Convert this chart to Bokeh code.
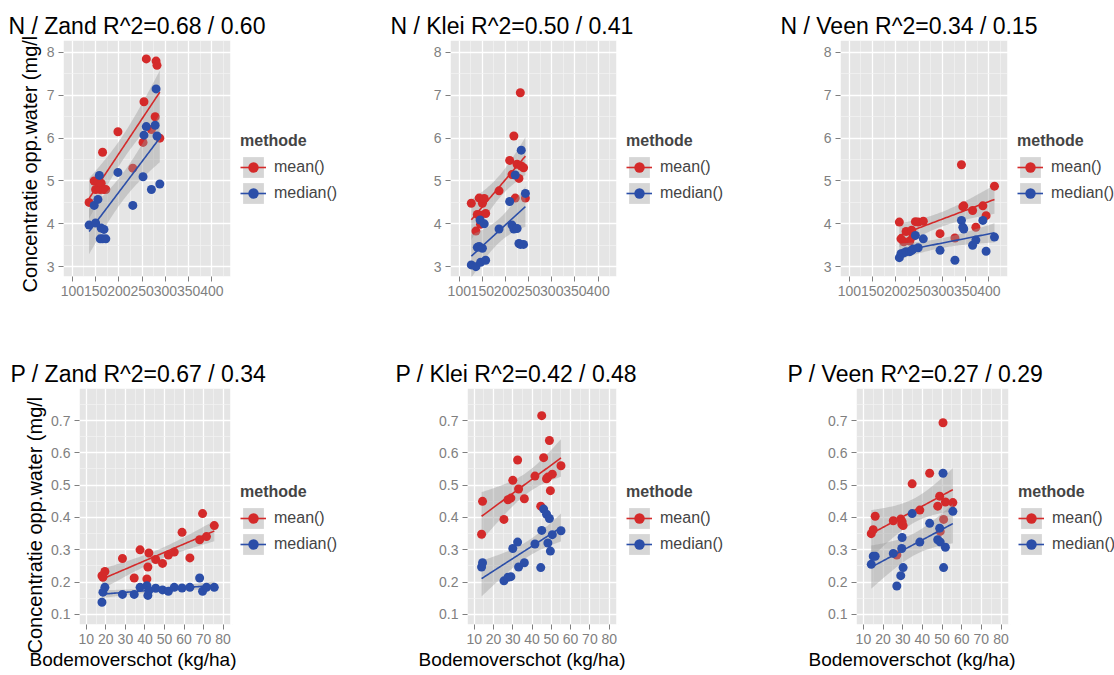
import numpy as np
from bokeh.plotting import figure
from bokeh.layouts import column, row
from bokeh.models import Range1d, FixedTicker, Legend, LegendItem, Title, BoxAnnotation
from bokeh.embed import file_html
from bokeh.resources import INLINE

# ---------------- data ----------------
methods = ["mean()", "median()"]
titles = ["N / Zand R^2=0.68 / 0.60", "N / Klei R^2=0.50 / 0.41", "N / Veen R^2=0.34 / 0.15",
          "P / Zand R^2=0.67 / 0.34", "P / Klei R^2=0.42 / 0.48", "P / Veen R^2=0.27 / 0.29"]
y_label = "Concentratie opp.water (mg/l"
x_label = "Bodemoverschot (kg/ha)"

n_ticks_x = [100, 150, 200, 250, 300, 350, 400]
n_ticks_y = [3, 4, 5, 6, 7, 8]
p_ticks_x = [10, 20, 30, 40, 50, 60, 70, 80]
p_ticks_y = [0.1, 0.2, 0.3, 0.4, 0.5, 0.6, 0.7]

nz_x = [136, 147, 150, 155, 158, 160, 162, 165, 168, 172, 198, 230, 252, 254, 259, 270, 278, 280, 282, 288]
nz_mean = [4.50, 5.00, 4.80, 5.00, 4.85, 4.80, 4.95, 5.67, 4.80, 4.80, 6.15, 5.30, 5.90, 6.85, 7.85, 6.20, 6.50, 7.80, 7.70, 6.00]
nz_median = [3.97, 4.43, 4.02, 4.57, 5.13, 3.65, 3.90, 3.65, 3.87, 3.65, 5.20, 4.43, 5.10, 6.07, 6.27, 4.80, 6.30, 7.15, 6.05, 4.93]

nk_x = [126, 136, 139, 143, 145, 146, 150, 154, 157, 186, 209, 214, 218, 221, 225, 229, 232, 234, 239, 243]
nk_mean = [4.48, 3.83, 4.22, 4.60, 4.20, 3.99, 4.48, 4.59, 4.24, 4.77, 5.48, 5.15, 6.05, 4.60, 5.39, 5.06, 7.06, 5.35, 5.31, 4.60]
nk_median = [3.04, 3.00, 3.45, 3.47, 4.09, 3.10, 3.43, 4.00, 3.15, 3.88, 4.52, 3.97, 3.88, 5.14, 3.89, 3.54, 3.52, 5.72, 3.52, 4.71]

nv_x = [207.5, 211, 217, 222, 230, 234, 237, 242, 248, 259, 295, 327, 341, 344, 346, 365, 372, 387, 394, 412]
nv_mean = [4.04, 3.65, 3.58, 3.82, 3.60, 3.85, 3.71, 4.05, 4.04, 4.06, 3.77, 3.67, 5.38, 4.40, 4.42, 4.31, 3.92, 4.42, 4.19, 4.88]
nv_median = [3.21, 3.30, 3.32, 3.35, 3.35, 3.38, 3.41, 3.73, 3.44, 3.65, 3.38, 3.15, 4.08, 3.92, 3.88, 3.50, 3.62, 4.08, 3.36, 3.69]

pz_x = [18, 18.5, 19.5, 28.5, 34.5, 37.5, 41, 41.5, 42, 45.5, 49, 52, 55, 59, 63, 68, 69.5, 71.5, 75.5]
pz_mean = [0.220, 0.215, 0.233, 0.273, 0.213, 0.300, 0.210, 0.247, 0.290, 0.270, 0.258, 0.284, 0.293, 0.354, 0.275, 0.331, 0.412, 0.341, 0.375]
pz_median = [0.138, 0.169, 0.184, 0.162, 0.162, 0.184, 0.189, 0.159, 0.174, 0.181, 0.176, 0.172, 0.184, 0.182, 0.184, 0.213, 0.172, 0.184, 0.184]

pk_x = [13.8, 14.3, 25.4, 27.5, 29, 30, 32.5, 33, 36, 41.5, 44.5, 45, 46, 47.5, 48.2, 49, 49.5, 50.5, 55]
pk_mean = [0.348, 0.450, 0.394, 0.455, 0.460, 0.515, 0.578, 0.488, 0.458, 0.528, 0.435, 0.715, 0.585, 0.520, 0.525, 0.638, 0.483, 0.534, 0.560]
pk_median = [0.247, 0.260, 0.204, 0.215, 0.217, 0.304, 0.324, 0.247, 0.260, 0.318, 0.245, 0.360, 0.426, 0.410, 0.321, 0.397, 0.296, 0.347, 0.359]

pv_x = [14, 15, 16, 25.2, 27, 29, 29.5, 29.7, 30.2, 34.8, 38.7, 43.7, 47.8, 48.8, 49.1, 50.5, 50.8, 51.7, 55.5]
pv_mean = [0.350, 0.362, 0.404, 0.390, 0.284, 0.395, 0.380, 0.387, 0.375, 0.504, 0.423, 0.537, 0.435, 0.466, 0.357, 0.693, 0.394, 0.448, 0.446]
pv_median = [0.255, 0.280, 0.280, 0.289, 0.188, 0.220, 0.304, 0.338, 0.245, 0.412, 0.324, 0.382, 0.331, 0.367, 0.324, 0.537, 0.245, 0.308, 0.419]

# ---------------- styling ----------------
RED = "#D42A2A"
BLUE = "#2B4EA8"
FONT = "Liberation Sans"
GREY_TXT = "#7F7F7F"


def t975(df):
    z = 1.959964
    g1 = (z ** 3 + z) / 4
    g2 = (5 * z ** 5 + 16 * z ** 3 + 3 * z) / 96
    g3 = (3 * z ** 7 + 19 * z ** 5 + 17 * z ** 3 - 15 * z) / 384
    return z + g1 / df + g2 / df ** 2 + g3 / df ** 3


def lm_band(x, y, n=80):
    x = np.asarray(x, float)
    y = np.asarray(y, float)
    b, a = np.polyfit(x, y, 1)
    xs = np.linspace(x.min(), x.max(), n)
    yhat = a + b * xs
    resid = y - (a + b * x)
    k = len(x)
    s = np.sqrt(np.sum(resid ** 2) / (k - 2))
    sxx = np.sum((x - x.mean()) ** 2)
    se = s * np.sqrt(1.0 / k + (xs - x.mean()) ** 2 / sxx)
    t = t975(k - 2)
    return xs, yhat, yhat - t * se, yhat + t * se


def minor_between(ticks):
    step = ticks[1] - ticks[0]
    return [round(ticks[0] - step / 2 + i * step, 6) for i in range(len(ticks) + 1)]


def panel(title, xs, ym, yd, xr, yr, xt, yt, L, W, FW, T, H, B, title_x,
          ylab_off, xlab_off, leg_y, show_ylab, show_xlab):
    # the frame spans panel + legend area; the grey panel covers only the data range
    x0, x1 = xr
    x_end = x0 + (x1 - x0) * FW / W
    p = figure(frame_width=FW, frame_height=H,
               min_border_left=L, min_border_right=0, min_border_top=T, min_border_bottom=B,
               x_range=Range1d(x0, x_end), y_range=Range1d(*yr),
               output_backend="svg", toolbar_location=None,
               background_fill_color="white", border_fill_color="white",
               outline_line_color=None)
    p.add_layout(BoxAnnotation(right=x1, fill_color="#E5E5E5", fill_alpha=1,
                               line_color=None, level="image"))
    p.title.text = title
    p.title.text_font = FONT
    p.title.text_font_size = "23px"
    p.title.text_font_style = "normal"
    p.title.text_color = "black"
    p.title.align = "left"
    p.title.offset = -(L - title_x)
    p.title.standoff = 3

    xtk = FixedTicker(ticks=xt, minor_ticks=minor_between(xt))
    ytk = FixedTicker(ticks=yt, minor_ticks=minor_between(yt))
    p.xaxis.ticker = xtk
    p.yaxis.ticker = ytk
    p.xgrid.ticker = xtk
    p.ygrid.ticker = ytk
    for g in (p.xgrid, p.ygrid):
        g.grid_line_color = "white"
        g.grid_line_width = 1.3
        g.minor_grid_line_color = "#F4F4F4"
        g.minor_grid_line_width = 0.7
    for ax in (p.xaxis, p.yaxis):
        ax.axis_line_color = None
        ax.major_tick_line_color = GREY_TXT
        ax.major_tick_out = 5
        ax.major_tick_in = 0
        ax.minor_tick_line_color = None
        ax.major_label_text_color = GREY_TXT
        ax.major_label_text_font = FONT
        ax.major_label_text_font_size = "14px"
        ax.major_label_standoff = 4
    if show_ylab:
        p.add_layout(Title(text=y_label, align="left", offset=ylab_off, standoff=6,
                           text_font=FONT, text_font_size="20px", text_font_style="normal",
                           text_color="black"), "left")
    if show_xlab:
        p.add_layout(Title(text=x_label, align="left", offset=xlab_off, standoff=0,
                           text_font=FONT, text_font_size="19px", text_font_style="normal",
                           text_color="black"), "below")

    # white cover for the legend area (hides grid lines there)
    p.add_layout(BoxAnnotation(left=x1, fill_color="white", fill_alpha=1,
                               line_color=None, level="glyph"))

    items = []
    for yv, col, lab in ((ym, RED, methods[0]), (yd, BLUE, methods[1])):
        bx, fit, lo, hi = lm_band(xs, yv)
        rb = p.varea(x=bx, y1=lo, y2=hi, fill_color="#999999", fill_alpha=0.4)
        rl = p.line(x=bx, y=fit, line_color=col, line_width=1.6)
        rs = p.scatter(x=xs, y=yv, size=9, fill_color=col, line_color=None)
        items.append(LegendItem(label=lab, renderers=[rb, rl, rs]))
    leg = Legend(items=items, location=(W + 10, leg_y), title="methode",
                 title_text_font=FONT, title_text_font_style="bold", title_text_font_size="16px",
                 label_text_font=FONT, label_text_font_size="16px",
                 glyph_width=26, glyph_height=26, label_height=26, spacing=0,
                 padding=0, margin=0, background_fill_alpha=0, border_line_color=None,
                 title_standoff=4, label_standoff=8)
    p.add_layout(leg)
    return p


NXR = (81, 440)
NYR = (2.77, 8.28)
PXR = (6.5, 83.8)
PYR = (0.069, 0.799)

f1 = panel(titles[0], nz_x, nz_mean, nz_median, NXR, NYR, n_ticks_x, n_ticks_y, 63, 167, 322, 40, 236, 64, 8, -16, 0, 70, True, False)
f2 = panel(titles[1], nk_x, nk_mean, nk_median, NXR, NYR, n_ticks_x, n_ticks_y, 65, 166, 325, 40, 236, 64, 5, 0, 0, 70, False, False)
f3 = panel(titles[2], nv_x, nv_mean, nv_median, NXR, NYR, n_ticks_x, n_ticks_y, 65, 167, 274, 40, 236, 64, 5, 0, 0, 70, False, False)
f4 = panel(titles[3], pz_x, pz_mean, pz_median, PXR, PYR, p_ticks_x, p_ticks_y, 79, 151, 306, 48, 236, 51, 10, -29, -50, 67, True, True)
f5 = panel(titles[4], pk_x, pk_mean, pk_median, PXR, PYR, p_ticks_x, p_ticks_y, 82, 149, 308, 48, 236, 51, 10, 0, -49, 67, False, True)
f6 = panel(titles[5], pv_x, pv_mean, pv_median, PXR, PYR, p_ticks_x, p_ticks_y, 81, 152, 258, 48, 236, 51, 12, 0, -48, 67, False, True)

layout = column(row(f1, f2, f3, spacing=0), row(f4, f5, f6, spacing=0), spacing=0)

with open("out.html", "w") as fh:
    fh.write(file_html(layout, INLINE))
